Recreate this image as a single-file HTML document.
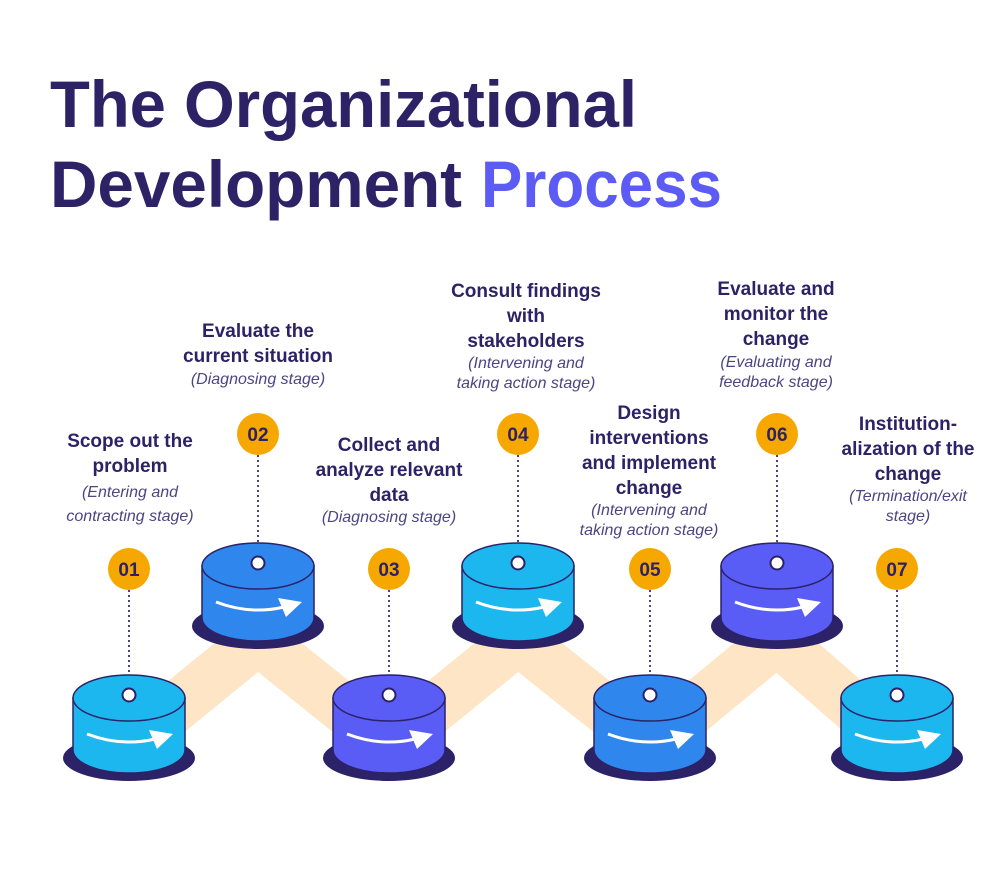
<!DOCTYPE html>
<html><head><meta charset="utf-8"><style>
html,body{margin:0;padding:0;background:#fff;}
svg{display:block;}
.t{font-family:"Liberation Sans",sans-serif;font-weight:bold;fill:#2e2266;}
.l{font-family:"Liberation Sans",sans-serif;font-weight:bold;font-size:19px;fill:#2e2266;text-anchor:middle;}
.i{font-family:"Liberation Sans",sans-serif;font-style:italic;font-size:16px;fill:#4b4585;text-anchor:middle;}
.b{font-family:"Liberation Sans",sans-serif;font-weight:bold;font-size:19px;fill:#2e2266;text-anchor:middle;}
</style></head><body>
<svg width="1006" height="872" viewBox="0 0 1006 872" xmlns="http://www.w3.org/2000/svg">
<defs>
<g id="arr"><path d="M-42 36 Q-8 49 26 41" stroke="#fff" stroke-width="3" fill="none"/><polygon points="20,32 44,36 28,51" fill="#fff"/></g>
</defs>
<text class="t" x="50" y="127" font-size="66" textLength="587" lengthAdjust="spacingAndGlyphs">The Organizational</text>
<text class="t" x="50" y="207" font-size="66" textLength="412" lengthAdjust="spacingAndGlyphs">Development</text>
<text class="t" x="481" y="207" font-size="66" textLength="241" lengthAdjust="spacingAndGlyphs" style="fill:#5c5cf5">Process</text>

<polyline points="129,745 258,640 389,745 518,640 650,745 777,640 897,745" fill="none" stroke="#fde5c6" stroke-width="50" stroke-linejoin="round"/>

<g stroke="#4b4585" stroke-width="2" stroke-dasharray="2 3">
<line x1="129" y1="590" x2="129" y2="688"/><line x1="258" y1="455" x2="258" y2="556"/>
<line x1="389" y1="590" x2="389" y2="688"/><line x1="518" y1="455" x2="518" y2="556"/>
<line x1="650" y1="590" x2="650" y2="688"/><line x1="777" y1="455" x2="777" y2="556"/>
<line x1="897" y1="590" x2="897" y2="688"/>
</g>

<g transform="translate(129,698)"><ellipse cy="60" rx="66" ry="23" fill="#2b2267"/><path d="M-56 0 V52 A56 23 0 0 0 56 52 V0 Z" fill="#1db7ef" stroke="#2b2267" stroke-width="1.5"/><ellipse rx="56" ry="23" fill="#1db7ef" stroke="#2b2267" stroke-width="1.5"/><use href="#arr"/><circle cy="-3" r="6.5" fill="#fff" stroke="#2b2267" stroke-width="2"/></g>
<g transform="translate(258,566)"><ellipse cy="60" rx="66" ry="23" fill="#2b2267"/><path d="M-56 0 V52 A56 23 0 0 0 56 52 V0 Z" fill="#2f86ec" stroke="#2b2267" stroke-width="1.5"/><ellipse rx="56" ry="23" fill="#2f86ec" stroke="#2b2267" stroke-width="1.5"/><use href="#arr"/><circle cy="-3" r="6.5" fill="#fff" stroke="#2b2267" stroke-width="2"/></g>
<g transform="translate(389,698)"><ellipse cy="60" rx="66" ry="23" fill="#2b2267"/><path d="M-56 0 V52 A56 23 0 0 0 56 52 V0 Z" fill="#5a5cf6" stroke="#2b2267" stroke-width="1.5"/><ellipse rx="56" ry="23" fill="#5a5cf6" stroke="#2b2267" stroke-width="1.5"/><use href="#arr"/><circle cy="-3" r="6.5" fill="#fff" stroke="#2b2267" stroke-width="2"/></g>
<g transform="translate(518,566)"><ellipse cy="60" rx="66" ry="23" fill="#2b2267"/><path d="M-56 0 V52 A56 23 0 0 0 56 52 V0 Z" fill="#1db7ef" stroke="#2b2267" stroke-width="1.5"/><ellipse rx="56" ry="23" fill="#1db7ef" stroke="#2b2267" stroke-width="1.5"/><use href="#arr"/><circle cy="-3" r="6.5" fill="#fff" stroke="#2b2267" stroke-width="2"/></g>
<g transform="translate(650,698)"><ellipse cy="60" rx="66" ry="23" fill="#2b2267"/><path d="M-56 0 V52 A56 23 0 0 0 56 52 V0 Z" fill="#2f86ec" stroke="#2b2267" stroke-width="1.5"/><ellipse rx="56" ry="23" fill="#2f86ec" stroke="#2b2267" stroke-width="1.5"/><use href="#arr"/><circle cy="-3" r="6.5" fill="#fff" stroke="#2b2267" stroke-width="2"/></g>
<g transform="translate(777,566)"><ellipse cy="60" rx="66" ry="23" fill="#2b2267"/><path d="M-56 0 V52 A56 23 0 0 0 56 52 V0 Z" fill="#5a5cf6" stroke="#2b2267" stroke-width="1.5"/><ellipse rx="56" ry="23" fill="#5a5cf6" stroke="#2b2267" stroke-width="1.5"/><use href="#arr"/><circle cy="-3" r="6.5" fill="#fff" stroke="#2b2267" stroke-width="2"/></g>
<g transform="translate(897,698)"><ellipse cy="60" rx="66" ry="23" fill="#2b2267"/><path d="M-56 0 V52 A56 23 0 0 0 56 52 V0 Z" fill="#1db7ef" stroke="#2b2267" stroke-width="1.5"/><ellipse rx="56" ry="23" fill="#1db7ef" stroke="#2b2267" stroke-width="1.5"/><use href="#arr"/><circle cy="-3" r="6.5" fill="#fff" stroke="#2b2267" stroke-width="2"/></g>

<g fill="#f7a800">
<circle cx="129" cy="569" r="21"/><circle cx="258" cy="434" r="21"/><circle cx="389" cy="569" r="21"/><circle cx="518" cy="434" r="21"/><circle cx="650" cy="569" r="21"/><circle cx="777" cy="434" r="21"/><circle cx="897" cy="569" r="21"/>
</g>
<text class="b" x="129" y="576">01</text><text class="b" x="258" y="441">02</text><text class="b" x="389" y="576">03</text><text class="b" x="518" y="441">04</text><text class="b" x="650" y="576">05</text><text class="b" x="777" y="441">06</text><text class="b" x="897" y="576">07</text>

<text class="l" x="130" y="447">Scope out the</text><text class="l" x="130" y="472">problem</text>
<text class="i" x="130" y="497">(Entering and</text><text class="i" x="130" y="521">contracting stage)</text>

<text class="l" x="258" y="337">Evaluate the</text><text class="l" x="258" y="362">current situation</text>
<text class="i" x="258" y="384">(Diagnosing stage)</text>

<text class="l" x="389" y="451">Collect and</text><text class="l" x="389" y="476">analyze relevant</text><text class="l" x="389" y="501">data</text>
<text class="i" x="389" y="522">(Diagnosing stage)</text>

<text class="l" x="526" y="297">Consult findings</text><text class="l" x="526" y="322">with</text><text class="l" x="526" y="347">stakeholders</text>
<text class="i" x="526" y="368">(Intervening and</text><text class="i" x="526" y="388">taking action stage)</text>

<text class="l" x="649" y="419">Design</text><text class="l" x="649" y="444">interventions</text><text class="l" x="649" y="469">and implement</text><text class="l" x="649" y="494">change</text>
<text class="i" x="649" y="515">(Intervening and</text><text class="i" x="649" y="535">taking action stage)</text>

<text class="l" x="776" y="295">Evaluate and</text><text class="l" x="776" y="320">monitor the</text><text class="l" x="776" y="345">change</text>
<text class="i" x="776" y="367">(Evaluating and</text><text class="i" x="776" y="387">feedback stage)</text>

<text class="l" x="908" y="430">Institution-</text><text class="l" x="908" y="455">alization of the</text><text class="l" x="908" y="480">change</text>
<text class="i" x="908" y="501">(Termination/exit</text><text class="i" x="908" y="521">stage)</text>
</svg>
</body></html>
